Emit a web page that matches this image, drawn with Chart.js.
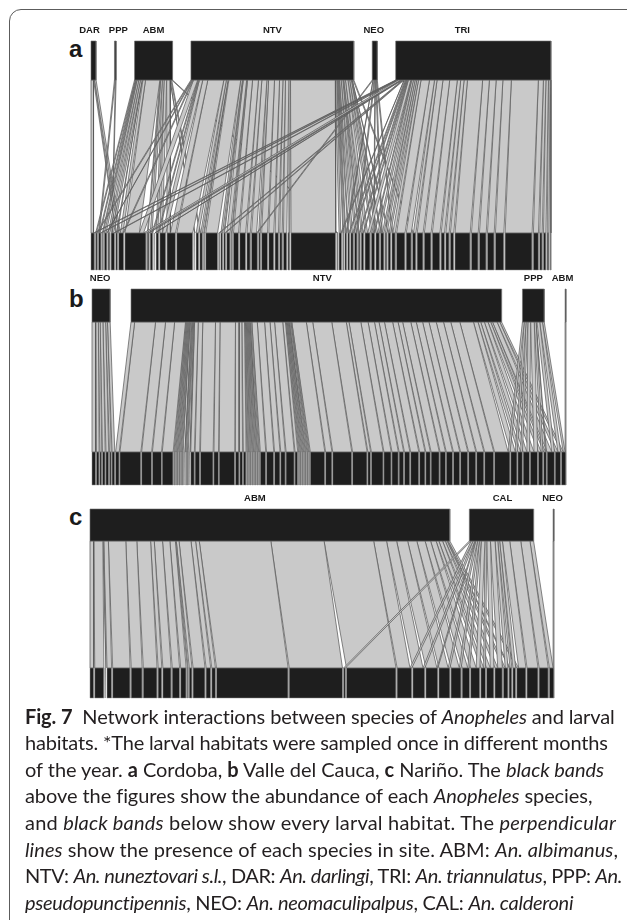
<!DOCTYPE html>
<html>
<head>
<meta charset="utf-8">
<script src="https://cdn.jsdelivr.net/npm/chart.js@4/dist/chart.umd.min.js"></script>
<style>
  html, body { margin: 0; padding: 0; background: #fff; }
  body { width: 627px; height: 920px; position: relative; overflow: hidden; }
  .frame { position: absolute; left: 9px; top: 9px; width: 680px; height: 980px;
           border: 1.3px solid #5c5c5c; border-radius: 12px; box-sizing: border-box; }
  canvas { position: absolute; }
  .letter { position: absolute; font-family: "Liberation Sans", Arial, sans-serif; font-weight: bold;
            font-size: 24px; line-height: 24px; color: #1a1a1a; }
  .cap { position: absolute; left: 25px; top: 702.7px; font-family: Lato, "Open Sans", sans-serif;
         font-size: 20px; line-height: 26.6px; color: #231f20; white-space: nowrap; }
  .cap > div { width: max-content; }
  .cap b { font-weight: 700; }
</style>
</head>
<body>
<div class="frame"></div>
<div class="letter" id="la">a</div>
<div class="letter" id="lb">b</div>
<div class="letter" id="lc">c</div>
<canvas id="ca"></canvas>
<canvas id="cb"></canvas>
<canvas id="cc"></canvas>
<div class="cap" id="cap">
<div><b>Fig. 7</b>&nbsp; Network interactions between species of <i>Anopheles</i> and larval</div>
<div>habitats. *The larval habitats were sampled once in different months</div>
<div>of the year. <b>a</b> Cordoba, <b>b</b> Valle del Cauca, <b>c</b> Nariño. The <i>black bands</i></div>
<div>above the figures show the abundance of each <i>Anopheles</i> species,</div>
<div>and <i>black bands</i> below show every larval habitat. The <i>perpendicular</i></div>
<div><i>lines</i> show the presence of each species in site. ABM: <i>An. albimanus</i>,</div>
<div>NTV: <i>An. nuneztovari s.l.</i>, DAR: <i>An. darlingi</i>, TRI: <i>An. triannulatus</i>, PPP: <i>An.</i></div>
<div><i>pseudopunctipennis</i>, NEO: <i>An. neomaculipalpus</i>, CAL: <i>An. calderoni</i></div>
</div>
<script>
// ---------------- DATA ----------------
// Panel a (Cordoba): species (top level) and individuals per larval habitat (bottom level, left to right)
const aSpecies = ['DAR', 'PPP', 'ABM', 'NTV', 'NEO', 'TRI'];
const aDAR = [3,0,0,0,0,0,0,1,2,0, 0,0,0,0,0,0,0,0,0,0, 0,0,0,0,0,0,0,0,0,0, 0,0,0,0,0,0,0,0,0,0,
              0,0,0,0,0,0,0,0,0,0, 0,0,0,0,0,0,0,0,0,0, 0,0,0,0,0,0,0,0,0,0, 0,0,0,0,0];
const aPPP = [0,0,1,0,0,0,1,0,0,0, 0,0,0,0,0,0,0,0,0,0, 0,0,0,0,0,0,0,0,0,0, 0,0,0,0,0,0,0,0,0,0,
              0,0,0,0,0,0,0,0,0,0, 0,0,0,0,0,0,0,0,0,0, 0,0,0,0,0,0,0,0,0,0, 0,0,0,0,0];
const aABM = [0,1,1,1,2,2,2,1,3,17, 1,2,0,2,3,4,0,1,0,1, 0,0,0,0,0,0,0,0,0,0, 0,0,0,0,0,0,0,0,0,1,
              0,0,0,0,0,0,0,0,0,0, 0,0,0,0,0,0,0,0,0,0, 0,0,0,0,0,0,0,0,0,0, 0,0,0,0,0];
const aNTV = [0,1,0,0,1,0,0,0,1,5, 0,1,0,1,4,6,19,0,3,2, 1,14,0,2,1,4,1,6,7,4, 6,2,7,6,4,3,4,2,53,0,
              2,1,1,1,2,2,1,2,3,2, 2,1,0,1,0,0,0,1,0,0, 0,0,0,0,0,0,0,0,0,0, 0,0,0,0,0];
const aNEO = [0,0,0,0,0,0,0,0,0,0, 0,0,0,0,0,0,0,0,0,0, 0,0,0,0,0,0,0,0,0,0, 1,0,0,0,0,0,0,0,0,0,
              0,0,1,0,0,1,0,0,0,1, 0,1,0,0,1,0,0,0,0,0, 0,0,0,0,0,0,0,0,0,0, 0,0,0,0,0];
const aTRI = [1,0,1,0,0,0,1,0,0,3, 1,0,1,0,0,0,0,0,0,0, 0,0,1,0,1,0,0,0,0,0, 0,0,0,0,0,0,0,0,0,0,
              1,0,0,1,1,0,1,1,3,1, 2,2,2,2,3,10,6,3,7,8, 9,4,4,4,18,8,8,8,10,32, 6,3,3,2,1];

// Panel b (Valle del Cauca)
const bSpecies = ['NEO', 'NTV', 'PPP', 'ABM'];
const bNEO = [4,3,2,3,3,2,3, 0,0,0,0,0, 0,0,0,0,0,0,0,0,0,0, 0,0,0,0,0,0,0,0, 0,0,0,0,0,0,0,0,
              0,0,0,0,0,0, 0,0,0,0,0,0,0, 0,0,0,0,0,0,0,0,0,0,0,0,0,0,0,0,0,0,0,0,0, 0,0,0,0,0,0,0,0,0,0];
const bNTV = [0,0,0,0,0,0,0, 4,23,11,10,12, 1,1,1,1,1,1,1,1,1,1, 4,5,14,5,17,4,3,3, 1,1,1,1,1,1,1,1,
              6,8,6,5,9,3, 1,1,1,1,1,1,1, 16,7,21,16,3,13,8,7,5,6,9,6,5,9,6,7,7,8,8,8,10,
              15,5,3,4,4,3,2,5,3,2];
const bPPP = [0,0,0,0,0,0,0, 0,0,0,0,0, 0,0,0,0,0,0,0,0,0,0, 0,0,0,0,0,0,0,0, 0,0,0,0,0,0,0,0,
              0,0,0,0,0,0, 0,0,0,0,0,0,0, 0,0,0,0,0,0,0,0,0,0,0,0,0,0,0,0,0,0,0,0,0, 2,2,2,3,4,2,1,3,3,2];
const bABM = [0,0,0,0,0,0,0, 0,0,0,0,0, 0,0,0,0,0,0,0,0,0,0, 0,0,0,0,0,0,0,0, 0,0,0,0,0,0,0,0,
              0,0,0,0,0,0, 0,0,0,0,0,0,0, 0,0,0,0,0,0,0,0,0,0,0,0,0,0,0,0,0,0,0,0,0, 0,0,0,0,0,0,0,0,0,1];

// Panel c (Nariño)
const cSpecies = ['ABM', 'CAL', 'NEO'];
const cABM = [4,10,1,5,19,12,15,4,9,8,6,1,3,13,5,4,78,58, 0,54, 14,11,12,10,9,6,6,3,4,3,2,1,0,2,0,0,0];
const cCAL = [0,0,0,0,0,0,0,0,0,0,0,0,0,0,0,0,0,0, 2,0, 2,2,1,2,2,2,4,2,4,5,3,2,3,8,12,10,4];
const cNEO = [0,0,0,0,0,0,0,0,0,0,0,0,0,0,0,0,0,0, 0,0, 0,0,0,0,0,0,0,0,0,0,0,0,0,0,0,0,1];

// ---------------- LAYOUT / STYLE ----------------
const panels = [
  { canvas: 'ca', letter: 'la', species: aSpecies, rows: [aDAR, aPPP, aABM, aNTV, aNEO, aTRI],
    box: { left: 91, right: 551, top: 41, topBand: 80, lowBand: 233, bottom: 270 },
    gapFrac: 0.040, labelShift: [-4, 3, 0, 0, -1, -11], letterPos: [69, 37] },
  { canvas: 'cb', letter: 'lb', species: bSpecies, rows: [bNEO, bNTV, bPPP, bABM],
    box: { left: 92, right: 566, top: 289, topBand: 322, lowBand: 452, bottom: 485 },
    gapFrac: 0.044, labelShift: [-1, 6, 0, -3], letterPos: [69, 287] },
  { canvas: 'cc', letter: 'lc', species: cSpecies, rows: [cABM, cCAL, cNEO],
    box: { left: 90, right: 554, top: 509, topBand: 541, lowBand: 668, bottom: 698 },
    gapFrac: 0.042, labelShift: [-15, 1, -1], letterPos: [69, 505] }
];
// right edges of the caption lines (layout)
const captionRight = [615, 607, 604, 592, 616, 618, 622, 573];

const STYLE = {
  topFill: '#1e1e1e', topBorder: '#6e6e6e',
  lowFill: '#1e1e1e', lowBorder: '#8c8c8c',
  linkFill: '#c9c9c9', linkBorder: '#555555',
  padX: 12, padTop: 22, padBottom: 6
};

function sum(arr) { return arr.reduce((a, b) => a + b, 0); }

function shape(points, fill, border, width) {
  return {
    type: 'line', data: points.concat([points[0]]), fill: 'shape',
    backgroundColor: fill, borderColor: border, borderWidth: width,
    borderJoinStyle: 'bevel', pointRadius: 0, pointHoverRadius: 0, tension: 0, clip: false
  };
}

function buildPanel(p) {
  const nS = p.rows.length, nH = p.rows[0].length;
  const spTot = p.rows.map(sum);
  const habTot = [];
  for (let h = 0; h < nH; h++) { let t = 0; for (let s = 0; s < nS; s++) t += p.rows[s][h]; habTot.push(t); }
  const total = sum(spTot);
  const W = total / (1 - (nS - 1) * p.gapFrac);
  const G = p.gapFrac * W;
  const Gb = (nS - 1) * G / (nH - 1);
  const spStart = [], habStart = [];
  let x = 0; for (let s = 0; s < nS; s++) { spStart.push(x); x += spTot[s] + G; }
  x = 0; for (let h = 0; h < nH; h++) { habStart.push(x); x += habTot[h] + Gb; }
  const H = p.box.bottom - p.box.top;
  const yTop = 1, yTopLow = (p.box.bottom - p.box.topBand) / H, yLowHigh = (p.box.bottom - p.box.lowBand) / H, yBot = 0;

  const boxes = [], links = [];
  for (let s = 0; s < nS; s++) {
    const a = spStart[s], b = a + spTot[s];
    boxes.push(shape([{x: a, y: yTop}, {x: b, y: yTop}, {x: b, y: yTopLow}, {x: a, y: yTopLow}], STYLE.topFill, STYLE.topBorder, 0.6));
  }
  for (let h = 0; h < nH; h++) {
    const a = habStart[h], b = a + habTot[h];
    boxes.push(shape([{x: a, y: yLowHigh}, {x: b, y: yLowHigh}, {x: b, y: yBot}, {x: a, y: yBot}], STYLE.lowFill, STYLE.lowBorder, 0.5));
  }
  const tOff = spStart.slice(), bOff = habStart.slice();
  for (let h = 0; h < nH; h++) {
    for (let s = 0; s < nS; s++) {
      const c = p.rows[s][h];
      if (!c) continue;
      links.push(shape([{x: tOff[s], y: yTopLow}, {x: tOff[s] + c, y: yTopLow},
                        {x: bOff[h] + c, y: yLowHigh}, {x: bOff[h], y: yLowHigh}],
                       STYLE.linkFill, STYLE.linkBorder, 0.7));
      tOff[s] += c; bOff[h] += c;
    }
  }
  return { datasets: boxes.concat(links), W, spStart, spTot };
}

const labelPlugin = {
  id: 'speciesLabels',
  afterDatasetsDraw(chart, args, opts) {
    const { ctx, chartArea } = chart;
    const xs = chart.scales.x;
    ctx.save();
    ctx.font = 'bold 9.5px "Liberation Sans", Arial, sans-serif';
    ctx.fillStyle = '#1a1a1a';
    ctx.textAlign = 'center';
    ctx.textBaseline = 'middle';
    opts.names.forEach((n, i) => {
      const cx = xs.getPixelForValue(opts.starts[i] + opts.sizes[i] / 2) + opts.shift[i];
      ctx.fillText(n, cx, chartArea.top - 11);
    });
    ctx.restore();
  }
};

panels.forEach(p => {
  const built = buildPanel(p);
  const cv = document.getElementById(p.canvas);
  const w = p.box.right - p.box.left + 2 * STYLE.padX;
  const h = p.box.bottom - p.box.top + STYLE.padTop + STYLE.padBottom;
  cv.width = w; cv.height = h;
  cv.style.width = w + 'px'; cv.style.height = h + 'px';
  cv.style.left = (p.box.left - STYLE.padX) + 'px';
  cv.style.top = (p.box.top - STYLE.padTop) + 'px';
  const lt = document.getElementById(p.letter);
  lt.style.left = p.letterPos[0] + 'px'; lt.style.top = p.letterPos[1] + 'px';

  new Chart(cv, {
    type: 'line',
    data: { datasets: built.datasets },
    options: {
      responsive: false, animation: false, events: [],
      devicePixelRatio: 1,
      layout: { padding: { left: STYLE.padX, right: STYLE.padX, top: STYLE.padTop, bottom: STYLE.padBottom } },
      scales: {
        x: { type: 'linear', min: 0, max: built.W, display: false },
        y: { type: 'linear', min: 0, max: 1, display: false }
      },
      plugins: {
        legend: { display: false }, tooltip: { enabled: false },
        speciesLabels: { names: p.species, starts: built.spStart, sizes: built.spTot, shift: p.labelShift }
      }
    },
    plugins: [labelPlugin]
  });
});

// fit each caption line to its right edge with letter spacing
function fitCaption() {
  const cap = document.getElementById('cap');
  const left = cap.getBoundingClientRect().left;
  Array.from(cap.children).forEach((d, i) => {
    d.style.letterSpacing = '0px';
    const w = d.getBoundingClientRect().width;
    const n = d.textContent.length;
    const ls = (captionRight[i] - left - w) / n;
    d.style.letterSpacing = Math.max(-0.6, Math.min(0.6, ls)).toFixed(3) + 'px';
  });
}
fitCaption();
if (document.fonts && document.fonts.ready) document.fonts.ready.then(fitCaption);
</script>
</body>
</html>
